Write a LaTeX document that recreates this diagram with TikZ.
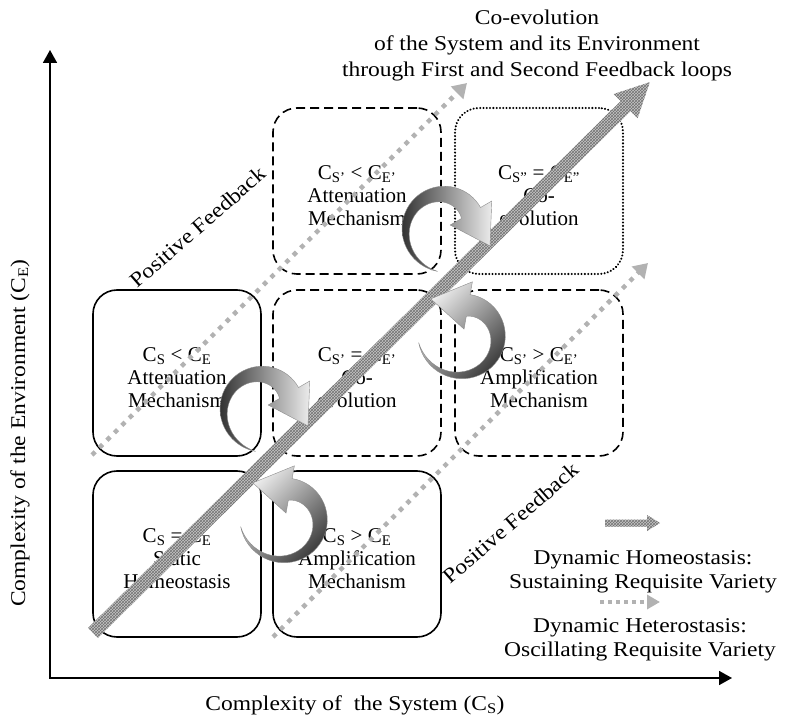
\documentclass[tikz,border=0pt]{standalone}
\usepackage{fontspec}
\setmainfont{Liberation Serif}
\newfontfamily\widefont{Liberation Serif}[FakeStretch=1.12]
\usetikzlibrary{arrows.meta,patterns,calc}

\tikzset{
  box/.style={draw, line width=1.6pt, rounded corners=24pt, minimum width=168pt, minimum height=166pt, inner sep=0pt},
  dashbox/.style={box, dash pattern=on 9pt off 5pt},
  dotbox/.style={box, line width=2.2pt, dash pattern=on 0.1pt off 3.2pt, line cap=round},
  boxtext/.style={align=center, font=\fontsize{21}{23}\selectfont},
  widetext/.style={align=center, font=\widefont\fontsize{21}{24}\selectfont},
  hatchfill/.style={preaction={fill=gray!45}, pattern=crosshatch, pattern color=black!55},
  dotband/.style={draw=gray!60, line width=4.5pt, dash pattern=on 4.5pt off 6pt, -{Triangle[width=17pt,length=14pt]}},
  swirlline/.style={draw=black!45, line width=0.4pt}
}

% straight hatched arrow: from, to, half width, head half width, head length
\newcommand\hatcharrow[5]{%
  \fill[hatchfill] let \p1=($(#2)-(#1)$), \n1={atan2(\y1,\x1)}, \n2={veclen(\x1,\y1)} in
    [shift={(#1)}, rotate=\n1] (0,-#3) -- (\n2-#5,-#3) -- (\n2-#5,-#4) -- (\n2,0)
    -- (\n2-#5,#4) -- (\n2-#5,#3) -- (0,#3) -- cycle;}

% curved 3d arrow: scope opts, r at tail, r at head, tail angle, head angle, shading
\newcommand\swirl[6]{%
  \begin{scope}[#1, declare function={ff(\t)=(\t-(#4))/((#5)-(#4)); rc(\t)=#2+(#3-#2)*ff(\t); hw(\t)=11*ff(\t);}]
    \pgfmathsetmacro\swsign{sign((#5)-(#4))}
    \shade[swirlline, #6] plot[domain=#4:#5, samples=40] ({(rc(\x)+hw(\x))*cos(\x)}, {(rc(\x)+hw(\x))*sin(\x)})
      -- ({(#3+24)*cos(#5)}, {(#3+24)*sin(#5)})
      -- ({(#3)*cos(#5)-(\swsign)*38*sin(#5)}, {(#3)*sin(#5)+(\swsign)*38*cos(#5)})
      -- ({(#3-24)*cos(#5)}, {(#3-24)*sin(#5)})
      -- plot[domain=#5:#4, samples=40] ({(rc(\x)-hw(\x))*cos(\x)}, {(rc(\x)-hw(\x))*sin(\x)})
      -- cycle;
  \end{scope}}

\begin{document}
\begin{tikzpicture}[x=1pt,y=-1pt]
  \useasboundingbox (0,0) rectangle (785,719);

  % axes
  \coordinate (o) at (50,678);
  \coordinate (ytip) at (50,50);
  \coordinate (xtip) at (732,678);
  \draw[line width=1.8pt, {Triangle[width=14pt,length=13pt]}-{Triangle[width=14pt,length=13pt]}] (ytip) -- (o) -- (xtip);
  \node[widetext] (xlab) at (355,705) {Complexity of~ the System (C\textsubscript{S})};
  \node[widetext, rotate=90] (ylab) at (20,433) {Complexity of the Environment (C\textsubscript{E})};

  % boxes
  \node[box] (stat) at (177,554) {};
  \node[boxtext, yshift=-5pt] (stat-t) at (stat) {C\textsubscript{S} = C\textsubscript{E}\\Static\\Homeostasis};
  \node[box] (ampl) at (357,554) {};
  \node[boxtext, yshift=-5pt] (ampl-t) at (ampl) {C\textsubscript{S} > C\textsubscript{E}\\Amplification\\Mechanism};
  \node[box] (atten) at (177,373) {};
  \node[boxtext, yshift=-5pt] (atten-t) at (atten) {C\textsubscript{S} < C\textsubscript{E}\\Attenuation\\Mechanism};
  \node[dashbox] (coevo) at (357,373) {};
  \node[boxtext, yshift=-5pt] (coevo-t) at (coevo) {C\textsubscript{S’} = C\textsubscript{E’}\\Co-\\evolution};
  \node[dashbox] (ampl1) at (539,373) {};
  \node[boxtext, yshift=-5pt] (ampl1-t) at (ampl1) {C\textsubscript{S’} > C\textsubscript{E’}\\Amplification\\Mechanism};
  \node[dashbox] (atten1) at (357,191) {};
  \node[boxtext, yshift=-5pt] (atten1-t) at (atten1) {C\textsubscript{S’} < C\textsubscript{E’}\\Attenuation\\Mechanism};
  \node[dotbox] (coevo1) at (539,191) {};
  \node[boxtext, yshift=-5pt] (coevo1-t) at (coevo1) {C\textsubscript{S”} = C\textsubscript{E”}\\Co-\\evolution};

  % feedback loops
  \coordinate (ua) at (92,455);
  \coordinate (ub) at (467,83);
  \coordinate (la) at (273,637);
  \coordinate (lb) at (648,263);
  \draw[dotband] (ua) -- (ub);
  \draw[dotband] (la) -- (lb);
  \coordinate (ma) at (93,633);
  \coordinate (mb) at (650,82);
  \hatcharrow{ma}{mb}{7}{17}{34}

  \node[widetext, rotate=41] (pf1) at (198,227) {Positive Feedback};
  \node[widetext, rotate=41] (pf2) at (511,523) {Positive Feedback};

  % curved arrows
  \swirl{shift={(263,408)}}{44}{30}{100}{330}{left color=black!80, right color=gray!15}
  \swirl{shift={(445,228)}}{44}{30}{100}{330}{left color=black!80, right color=gray!15}
  \swirl{shift={(285,519)}}{45}{30}{170}{-80}{top color=gray!10, bottom color=black!75, shading angle=45}
  \swirl{shift={(463,335)}}{45}{30}{170}{-80}{top color=gray!10, bottom color=black!75, shading angle=45}

  % title
  \node[widetext, font=\widefont\fontsize{21}{26}\selectfont] (title) at (537,45) {Co-evolution\\of the System and its Environment\\through First and Second Feedback loops};

  % legend
  \coordinate (ha) at (605,523);
  \coordinate (hb) at (660,523);
  \hatcharrow{ha}{hb}{3.5}{8}{13}
  \node[widetext] (homeo) at (643,572) {Dynamic Homeostasis:\\Sustaining Requisite Variety};
  \coordinate (da) at (600,602);
  \coordinate (db) at (660,602);
  \draw[dotband, line width=4pt, dash pattern=on 4pt off 4pt, -{Triangle[width=14pt,length=13pt]}] (da) -- (db);
  \node[widetext] (hetero) at (640,640) {Dynamic Heterostasis:\\Oscillating Requisite Variety};
\end{tikzpicture}
\end{document}
